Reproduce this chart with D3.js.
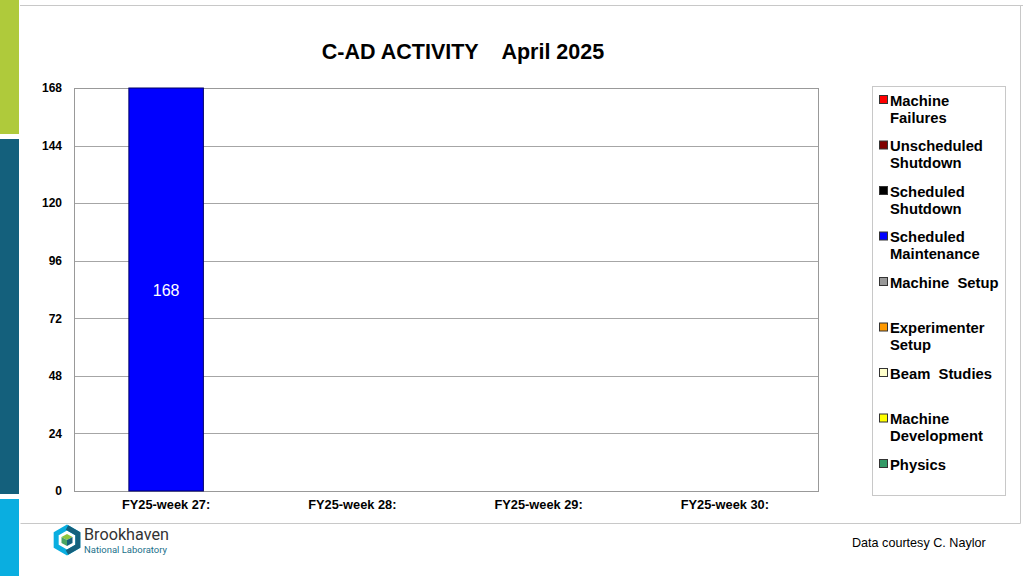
<!DOCTYPE html>
<html><head><meta charset="utf-8">
<script src="https://cdn.jsdelivr.net/npm/d3@7"></script>
<style>
html,body{margin:0;padding:0;background:#fff;}
svg{display:block;font-family:"Liberation Sans",Arial,sans-serif;}
</style></head>
<body><svg id="c" width="1024" height="576"></svg>
<script>
const weeks = ["FY25-week 27:", "FY25-week 28:", "FY25-week 29:", "FY25-week 30:"];
const seriesNames = ["Machine Failures", "Unscheduled Shutdown", "Scheduled Shutdown", "Scheduled Maintenance", "Machine  Setup", "Experimenter Setup", "Beam  Studies", "Machine Development", "Physics"];
const legendLines = [["Machine", "Failures"], ["Unscheduled", "Shutdown"], ["Scheduled", "Shutdown"], ["Scheduled", "Maintenance"], ["Machine  Setup"], ["Experimenter", "Setup"], ["Beam  Studies"], ["Machine", "Development"], ["Physics"]];
const machineFailures      = [0, 0, 0, 0];
const unscheduledShutdown  = [0, 0, 0, 0];
const scheduledShutdown    = [0, 0, 0, 0];
const scheduledMaintenance = [168, 0, 0, 0];
const machineSetup         = [0, 0, 0, 0];
const experimenterSetup    = [0, 0, 0, 0];
const beamStudies          = [0, 0, 0, 0];
const machineDevelopment   = [0, 0, 0, 0];
const physics              = [0, 0, 0, 0];
const yTicks = [0, 24, 48, 72, 96, 120, 144, 168];
const colors = ["#ff0000", "#800000", "#000000", "#0000ff", "#999999", "#ff9900", "#ffffcc", "#ffff00", "#339966"];

const seriesValues = [machineFailures, unscheduledShutdown, scheduledShutdown, scheduledMaintenance, machineSetup, experimenterSetup, beamStudies, machineDevelopment, physics];
const table = weeks.map((w, i) => {
  const row = {week: w};
  seriesNames.forEach((s, j) => row[s] = seriesValues[j][i]);
  return row;
});

const svg = d3.select("#c");

// side strips
const strips = [[0, 134, "#afca3b"], [139, 494, "#14607c"], [499, 576, "#0aaee0"]];
svg.selectAll("rect.strip").data(strips).join("rect")
  .attr("x", 0).attr("y", d => d[0]).attr("width", 19).attr("height", d => d[1] - d[0]).attr("fill", d => d[2]);

// frame
svg.append("path").attr("d", "M20,5.5 H1023 M20.5,523.5 H1020.5 V5").attr("fill", "none").attr("stroke", "#c8c8c8").attr("stroke-width", 1);

// title
svg.append("text").attr("x", 463).attr("y", 59).attr("text-anchor", "middle")
  .attr("font-size", 21.5).attr("font-weight", "bold").attr("fill", "#000")
  .attr("xml:space", "preserve").text("C-AD ACTIVITY    April 2025");

const L = 74, R = 819, T = 88, B = 491;
const x = d3.scaleBand().domain(weeks).range([L, R]).paddingInner(0).paddingOuter(0);
const y = d3.scaleLinear().domain([0, 168]).range([B, T]);

// gridlines
svg.append("g").selectAll("line").data(yTicks.filter(t => t > 0)).join("line")
  .attr("x1", L).attr("x2", R).attr("y1", d => Math.round(y(d)) + 0.5).attr("y2", d => Math.round(y(d)) + 0.5)
  .attr("stroke", "#a6a6a6").attr("stroke-width", 1);

// plot border
svg.append("rect").attr("x", L + 0.5).attr("y", T + 0.5).attr("width", R - L - 1).attr("height", B - T)
  .attr("fill", "none").attr("stroke", "#999");

// stacked bars
const stack = d3.stack().keys(seriesNames)(table);
const barW = x.bandwidth() * 0.4;
stack.forEach((layer, j) => {
  svg.append("g").selectAll("rect").data(layer.filter(d => d[1] - d[0] > 0)).join("rect")
    .attr("x", d => x(d.data.week) + x.bandwidth() / 2 - barW / 2 - 1)
    .attr("width", barW)
    .attr("y", d => y(d[1]))
    .attr("height", d => y(d[0]) - y(d[1]))
    .attr("fill", colors[j]).attr("stroke", "#000066").attr("stroke-width", 1);
  svg.append("g").selectAll("text").data(layer.filter(d => d[1] - d[0] > 0)).join("text")
    .attr("x", d => x(d.data.week) + x.bandwidth() / 2 - 1)
    .attr("y", d => (y(d[0]) + y(d[1])) / 2 + 6)
    .attr("text-anchor", "middle").attr("font-size", 16).attr("fill", "#fff")
    .text(d => d[1] - d[0]);
});

// axes
const yAxis = d3.axisLeft(y).tickValues(yTicks).tickSize(0).tickPadding(0);
const gy = svg.append("g").attr("transform", `translate(${L - 12},0)`).call(yAxis);
gy.select(".domain").remove();
gy.selectAll("text").attr("font-size", 12).attr("font-weight", "bold").attr("fill", "#000")
  .attr("font-family", "Liberation Sans, Arial, sans-serif").attr("dy", "0.32em");

const xAxis = d3.axisBottom(x).tickSize(0).tickPadding(0);
const gx = svg.append("g").attr("transform", `translate(-1,${B + 9})`).call(xAxis);
gx.select(".domain").remove();
gx.selectAll("text").attr("font-size", 12.8).attr("font-weight", "bold").attr("fill", "#000")
  .attr("font-family", "Liberation Sans, Arial, sans-serif");

// legend
svg.append("rect").attr("x", 872.5).attr("y", 86.5).attr("width", 133).attr("height", 409)
  .attr("fill", "#fff").attr("stroke", "#c8c8c8");
const lg = svg.append("g").selectAll("g").data(seriesNames).join("g")
  .attr("transform", (d, i) => `translate(879,${100 + i * 45.5})`);
lg.append("rect").attr("x", 0.5).attr("y", -4.5).attr("width", 8).attr("height", 8)
  .attr("fill", (d, i) => colors[i]).attr("stroke", "#333").attr("stroke-width", 1);
lg.append("text").attr("x", 11).attr("y", 5.5).attr("font-size", 14.8).attr("font-weight", "bold")
  .attr("xml:space", "preserve")
  .each(function(d, i) {
    const t = d3.select(this);
    legendLines[i].forEach((line, k) => {
      t.append("tspan").attr("x", 11).attr("dy", k === 0 ? 0 : 17.3).text(line);
    });
  });

// logo
const logo = svg.append("g").attr("transform", "translate(67,540)");
const hex = d3.range(6).map(k => [12.5 * Math.cos(Math.PI / 3 * k - Math.PI / 2), 12.5 * Math.sin(Math.PI / 3 * k - Math.PI / 2)]);
logo.append("path").attr("d", "M" + hex.map(p => p.join(",")).join("L") + "Z")
  .attr("fill", "none").attr("stroke", "#0aaee0").attr("stroke-width", 5);
logo.append("path").attr("d", `M${hex[0]}L${hex[1]}L${hex[2]}L${hex[3]}`)
  .attr("fill", "none").attr("stroke", "#14607c").attr("stroke-width", 5);
logo.append("path").attr("d", "M0,-6 L5.5,-3 L0,0 L-5.5,-3Z").attr("fill", "#8dc63f");
logo.append("path").attr("d", "M-5.5,-3 L0,0 L0,6 L-5.5,3Z").attr("fill", "#4aa564");
logo.append("path").attr("d", "M5.5,-3 L0,0 L0,6 L5.5,3Z").attr("fill", "#14607c");
svg.append("text").attr("x", 84).attr("y", 540).attr("font-size", 16.5).attr("fill", "#333")
  .attr("textLength", 85).attr("lengthAdjust", "spacingAndGlyphs")
  .attr("font-family", "Roboto, Liberation Sans, sans-serif").text("Brookhaven");
svg.append("text").attr("x", 84).attr("y", 553).attr("font-size", 9).attr("fill", "#1a6f8a")
  .attr("textLength", 83).attr("lengthAdjust", "spacingAndGlyphs")
  .attr("font-family", "Roboto, Liberation Sans, sans-serif").text("National Laboratory");

svg.append("text").attr("x", 852).attr("y", 547).attr("font-size", 12.6).attr("fill", "#000")
  .text("Data courtesy C. Naylor");
</script></body></html>
